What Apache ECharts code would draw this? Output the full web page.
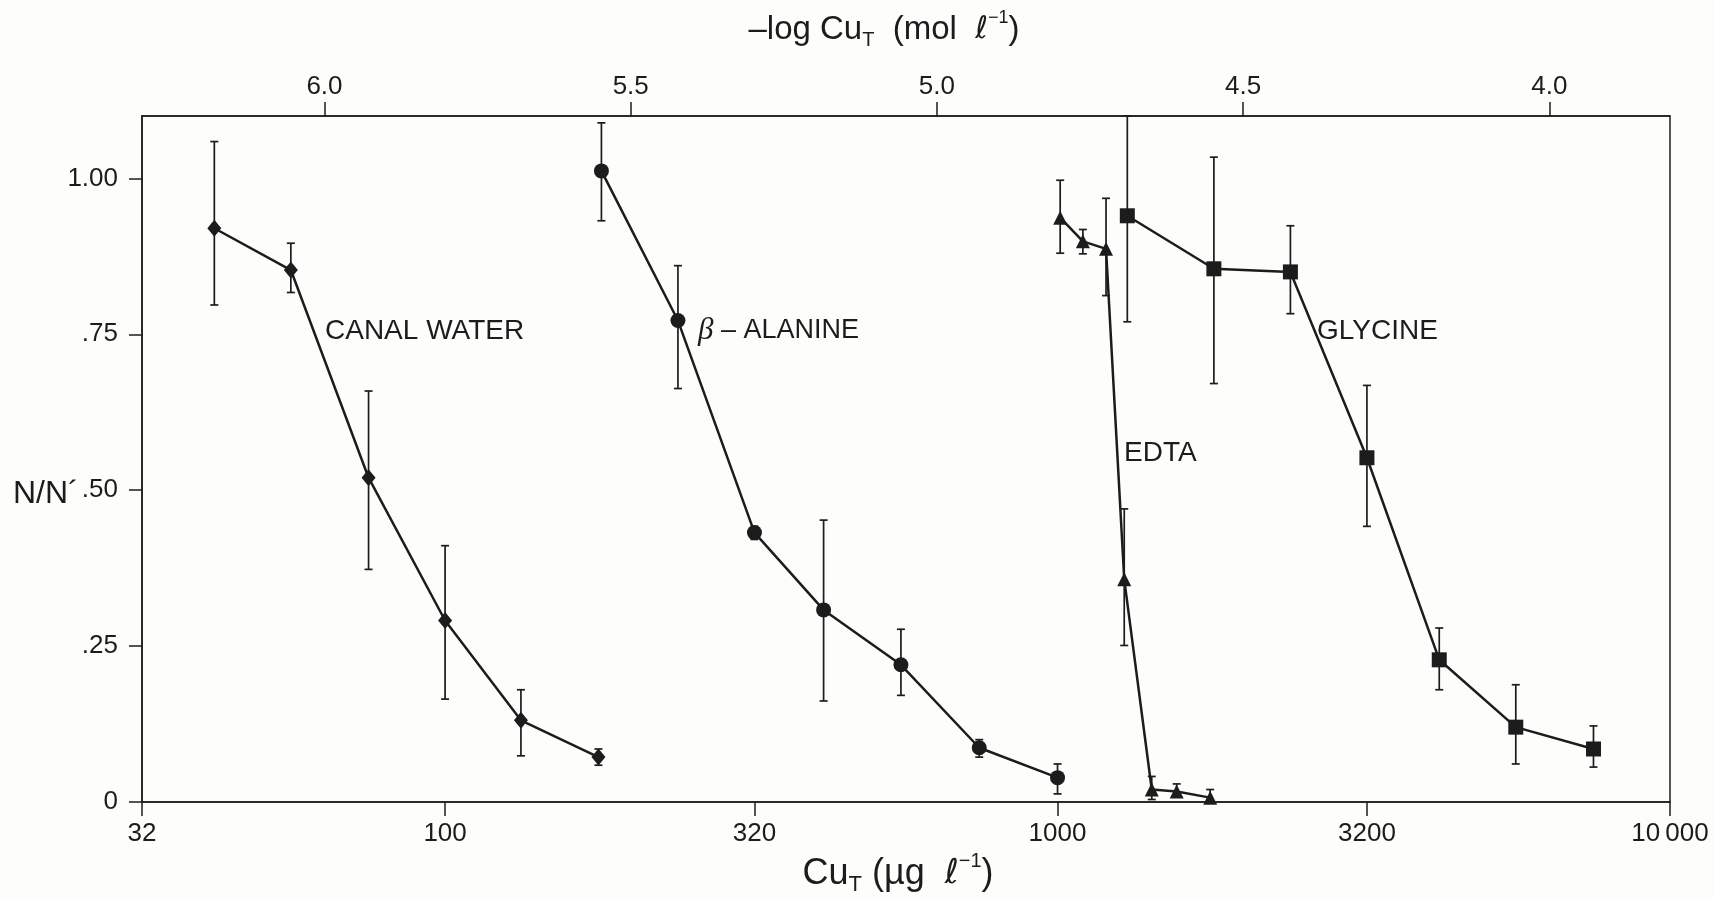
<!DOCTYPE html>
<html>
<head>
<meta charset="utf-8">
<title>Copper toxicity – N/N′ versus total copper</title>
<script src="https://cdn.jsdelivr.net/npm/echarts@6/dist/echarts.min.js"></script>
<style>
  html, body { margin: 0; padding: 0; background: #fdfdfb; }
  #chart { width: 1714px; height: 898px; }
</style>
</head>
<body>
<div id="chart"></div>
<script>
// Total copper, µg per litre, for each medium
const canalX = [42, 56, 75, 100, 133, 178];
const canalY = [0.920, 0.853, 0.520, 0.291, 0.131, 0.072];
const canalLow = [0.797, 0.817, 0.373, 0.165, 0.074, 0.059];
const canalHigh = [1.059, 0.896, 0.659, 0.411, 0.180, 0.085];

const alanineX = [180, 240, 320, 415, 555, 745, 1000];
const alanineY = [1.012, 0.772, 0.432, 0.308, 0.220, 0.087, 0.039];
const alanineLow = [0.932, 0.663, 0.421, 0.162, 0.171, 0.072, 0.013];
const alanineHigh = [1.089, 0.860, 0.442, 0.452, 0.277, 0.100, 0.061];

const edtaX = [1010, 1100, 1200, 1285, 1425, 1565, 1775];
const edtaY = [0.937, 0.899, 0.887, 0.357, 0.020, 0.017, 0.007];
const edtaLow = [0.880, 0.879, 0.812, 0.251, 0.004, 0.009, 0.000];
const edtaHigh = [0.997, 0.918, 0.968, 0.470, 0.041, 0.029, 0.020];

const glycineX = [1300, 1800, 2400, 3200, 4200, 5600, 7500];
const glycineY = [0.940, 0.855, 0.850, 0.552, 0.228, 0.120, 0.085];
const glycineLow = [0.770, 0.671, 0.783, 0.442, 0.180, 0.061, 0.056];
const glycineHigh = [1.100, 1.034, 0.924, 0.668, 0.279, 0.188, 0.122];

// Axis ticks
const xTickValues = [32, 100, 320, 1000, 3200, 10000];
const xTickLabels = ['32', '100', '320', '1000', '3200', '10\u2009000'];
const topTickValues = [6.0, 5.5, 5.0, 4.5, 4.0];
const topTickLabels = ['6.0', '5.5', '5.0', '4.5', '4.0'];
const yTickValues = [0, 0.25, 0.5, 0.75, 1.0];
const yTickLabels = ['0', '.25', '.50', '.75', '1.00'];

const X_MIN = 32, X_MAX = 10000, Y_MAX = 1.1;

// -log10(Cu, mol/l) = 6 + log10(M_Cu) - log10(Cu, µg/l)
const CU_MOLAR_MASS = 63.546;
const LOG_OFFSET = 6 + Math.log10(CU_MOLAR_MASS);

const INK = '#1c1c1c';
const FONT = '"Liberation Sans", Arial, Helvetica, sans-serif';

function pickLabel(values, labels, v) {
  let best = 0;
  values.forEach((t, i) => { if (Math.abs(t - v) < Math.abs(values[best] - v)) best = i; });
  return labels[best];
}

function lineSeries(name, xs, ys, symbol, size) {
  return {
    name, type: 'line', z: 3,
    data: xs.map((x, i) => [Math.log10(x), ys[i]]),
    symbol, symbolSize: size, showSymbol: true,
    itemStyle: { color: INK },
    lineStyle: { color: INK, width: 2.5 },
    emphasis: { disabled: true },
    animation: false
  };
}

function errorSeries(name, xs, lows, highs) {
  return {
    name: name + ' sd', type: 'custom', z: 2,
    data: xs.map((x, i) => [Math.log10(x), lows[i], highs[i]]),
    encode: { x: 0, y: [1, 2] },
    renderItem(params, api) {
      const x = api.value(0);
      const lo = api.coord([x, api.value(1)]);
      const hi = api.coord([x, api.value(2)]);
      const w = 4;
      const st = { stroke: INK, lineWidth: 1.7 };
      return {
        type: 'group',
        children: [
          { type: 'line', shape: { x1: lo[0], y1: lo[1], x2: hi[0], y2: hi[1] }, style: st },
          { type: 'line', shape: { x1: hi[0] - w, y1: hi[1], x2: hi[0] + w, y2: hi[1] }, style: st },
          { type: 'line', shape: { x1: lo[0] - w, y1: lo[1], x2: lo[0] + w, y2: lo[1] }, style: st }
        ]
      };
    },
    animation: false
  };
}

function titleRich(size) {
  return {
    n: { fontSize: size, fontFamily: FONT, color: INK, lineHeight: size + 8 },
    s: { fontSize: Math.round(size * 0.6), fontFamily: FONT, color: INK, lineHeight: Math.round(size * 0.6), verticalAlign: 'bottom' },
    l: { fontSize: size - 2, fontFamily: '"DejaVu Sans", sans-serif', fontStyle: 'italic', color: INK, lineHeight: size + 8 },
    p: { fontSize: Math.round(size * 0.56), fontFamily: FONT, color: INK, lineHeight: Math.round(size * 0.56), verticalAlign: 'top' }
  };
}

const chart = echarts.init(document.getElementById('chart'), null, { renderer: 'canvas' });

chart.setOption({
  backgroundColor: '#fdfdfb',
  animation: false,
  grid: {
    left: 142, right: 44, top: 116, bottom: 96,
    outerBoundsMode: 'none', containLabel: false,
    show: true, borderColor: INK, borderWidth: 1.5, backgroundColor: 'transparent'
  },
  xAxis: [
    {
      type: 'value', position: 'bottom',
      min: Math.log10(X_MIN), max: Math.log10(X_MAX),
      axisLine: { show: true, lineStyle: { color: INK, width: 1.5 } },
      axisTick: { show: true, length: 14, lineStyle: { color: INK, width: 1.5 },
                  customValues: xTickValues.map(v => Math.log10(v)) },
      axisLabel: {
        customValues: xTickValues.map(v => Math.log10(v)),
        formatter: v => pickLabel(xTickValues.map(t => Math.log10(t)), xTickLabels, v),
        fontSize: 26, fontFamily: FONT, color: INK, margin: 19
      },
      splitLine: { show: false },
      name: '{n|Cu}{s|T}{n| (µg  }{l|ℓ}{p|−1}{n|)}',
      nameLocation: 'middle', nameGap: 48,
      nameTextStyle: { rich: titleRich(36), padding: [0, 16, 0, 0] }
    },
    {
      type: 'value', position: 'top', inverse: true,
      min: LOG_OFFSET - Math.log10(X_MAX), max: LOG_OFFSET - Math.log10(X_MIN),
      axisLine: { show: true, lineStyle: { color: INK, width: 1.5 } },
      axisTick: { show: true, length: 14, lineStyle: { color: INK, width: 1.5 },
                  customValues: topTickValues },
      axisLabel: {
        customValues: topTickValues,
        formatter: v => pickLabel(topTickValues, topTickLabels, v),
        fontSize: 26, fontFamily: FONT, color: INK, margin: 16
      },
      splitLine: { show: false },
      name: '{n|–log Cu}{s|T}{n|  (mol  }{l|ℓ}{p|−1}{n|)}',
      nameLocation: 'middle', nameGap: 66,
      nameTextStyle: { rich: titleRich(33), padding: [0, 44, 0, 0] }
    }
  ],
  yAxis: {
    type: 'value', min: 0, max: Y_MAX,
    axisLine: { show: true, lineStyle: { color: INK, width: 1.5 } },
    axisTick: { show: true, length: 13, lineStyle: { color: INK, width: 1.5 },
                customValues: yTickValues },
    axisLabel: {
      customValues: yTickValues,
      formatter: v => pickLabel(yTickValues, yTickLabels, v),
      fontSize: 26, fontFamily: FONT, color: INK, margin: 24
    },
    splitLine: { show: false }
  },
  graphic: [
    { type: 'text', x: 13, y: 494, style: { text: 'N/N\u00B4', fontSize: 32, fontFamily: FONT, fill: INK, align: 'left', verticalAlign: 'middle' } },
    { type: 'text', x: 325, y: 331, style: { text: 'CANAL WATER', fontSize: 28, fontFamily: FONT, fill: INK, align: 'left', verticalAlign: 'middle' } },
    { type: 'text', x: 698, y: 331, style: {
        text: '{b|β} – ALANINE', fontSize: 27, fontFamily: FONT, fill: INK, align: 'left', verticalAlign: 'middle',
        rich: { b: { fontSize: 31, fontFamily: '"Liberation Serif", serif', fontStyle: 'italic', fill: INK } } } },
    { type: 'text', x: 1124, y: 453, style: { text: 'EDTA', fontSize: 28, fontFamily: FONT, fill: INK, align: 'left', verticalAlign: 'middle' } },
    { type: 'text', x: 1317, y: 331, style: { text: 'GLYCINE', fontSize: 28, fontFamily: FONT, fill: INK, align: 'left', verticalAlign: 'middle' } }
  ],
  series: [
    errorSeries('Canal water', canalX, canalLow, canalHigh),
    errorSeries('β-Alanine', alanineX, alanineLow, alanineHigh),
    errorSeries('EDTA', edtaX, edtaLow, edtaHigh),
    errorSeries('Glycine', glycineX, glycineLow, glycineHigh),
    lineSeries('Canal water', canalX, canalY, 'diamond', [14, 17]),
    lineSeries('β-Alanine', alanineX, alanineY, 'circle', 15),
    lineSeries('EDTA', edtaX, edtaY, 'triangle', 14),
    lineSeries('Glycine', glycineX, glycineY, 'rect', 15)
  ]
});
</script>
</body>
</html>
